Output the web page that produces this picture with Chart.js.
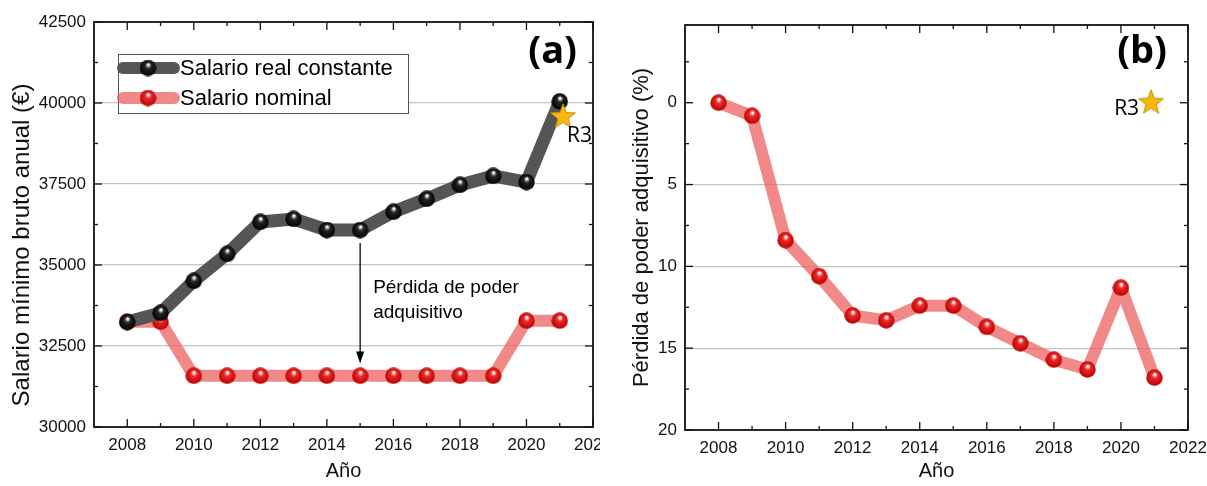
<!DOCTYPE html>
<html>
<head>
<meta charset="utf-8">
<script src="https://cdn.jsdelivr.net/npm/chart.js@4.4.0/dist/chart.umd.min.js"></script>
<style>
  html, body { margin: 0; padding: 0; background: #fff; }
  body { width: 1207px; height: 486px; position: relative; overflow: hidden; }
  .panel { position: absolute; top: 0; height: 486px; }
  #panelA { left: 0; width: 620px; z-index: 1; }
  #panelB { left: 600px; width: 607px; z-index: 2; background: #fff; }
</style>
</head>
<body>
<div class="panel" id="panelA"><canvas id="chartA"></canvas></div>
<div class="panel" id="panelB"><canvas id="chartB"></canvas></div>
<script>
// values
const years = [2008, 2009, 2010, 2011, 2012, 2013, 2014, 2015, 2016, 2017, 2018, 2019, 2020, 2021];
const realSalary = [33240, 33520, 34510, 35340, 36330, 36420, 36080, 36080, 36640, 37040, 37470, 37750, 37560, 40050];
const nominalSalary = [33250, 33250, 31580, 31580, 31580, 31580, 31580, 31580, 31580, 31580, 31580, 31580, 33280, 33280];
const lossPct = [0, 0.8, 8.4, 10.6, 13.0, 13.3, 12.4, 12.4, 13.7, 14.7, 15.7, 16.3, 11.3, 16.8];

const yearTicks = [2008, 2010, 2012, 2014, 2016, 2018, 2020, 2022];
const salaryTicks = [30000, 32500, 35000, 37500, 40000, 42500];
const lossTicks = [0, 5, 10, 15, 20];

const r3Salary = { x: 2021.1, y: 39570 };
const r3Loss = { x: 2020.9, y: 0 };
const lossArrow = { x: 2015, from: 35680, to: 31960 };

const colors = {
  realLine: '#555555',
  nominalLine: 'rgba(236, 92, 92, 0.72)',
  grid: '#c4c4c4',
  star: '#f7b90f',
  starEdge: '#c98f00',
};

const sansFont = '"Liberation Sans", Arial, sans-serif';
const labelFont = '"Open Sans", sans-serif';

function sphere(r, mid, dark) {
  const c = document.createElement('canvas');
  c.width = c.height = Math.ceil(2 * r);
  const m = c.width / 2;
  const g = c.getContext('2d');
  const grd = g.createRadialGradient(m * 1.05, m * 0.6, r * 0.08, m, m, r);
  grd.addColorStop(0, '#ffffff');
  grd.addColorStop(0.3, mid);
  grd.addColorStop(1, dark);
  g.fillStyle = grd;
  g.beginPath();
  g.arc(m, m, r - 0.3, 0, Math.PI * 2);
  g.fill();
  return c;
}

function starImage(outer) {
  const c = document.createElement('canvas');
  c.width = c.height = 2 * outer + 2;
  const g = c.getContext('2d');
  const cx = outer + 1, cy = outer + 1, inner = outer * 0.42;
  g.beginPath();
  for (let i = 0; i < 10; i++) {
    const rad = i % 2 === 0 ? outer : inner;
    const a = -Math.PI / 2 + i * Math.PI / 5;
    g.lineTo(cx + rad * Math.cos(a), cy + rad * Math.sin(a));
  }
  g.closePath();
  g.fillStyle = colors.star;
  g.fill();
  g.strokeStyle = colors.starEdge;
  g.lineWidth = 1;
  g.stroke();
  return c;
}

const blackBall = sphere(8.5, '#262626', '#000000');
const redBall = sphere(8.5, '#ee2a2a', '#b80000');
const star = starImage(13);

const toPoints = (ys) => years.map((yr, i) => ({ x: yr, y: ys[i] }));

// frame + inward ticks on all four sides, like the original plot
const frameTicks = {
  id: 'frameTicks',
  afterDraw(chart, args, opts) {
    const { ctx, chartArea: a, scales: { x, y } } = chart;
    const seg = (x1, y1, x2, y2) => { ctx.beginPath(); ctx.moveTo(x1, y1); ctx.lineTo(x2, y2); ctx.stroke(); };
    ctx.save();
    ctx.strokeStyle = '#111';
    ctx.lineWidth = 1.3;
    yearTicks.forEach(v => {
      const px = x.getPixelForValue(v);
      seg(px, a.bottom, px, a.bottom - 8);
      seg(px, a.top, px, a.top + 8);
    });
    yearTicks.forEach(v => {
      const px = x.getPixelForValue(v + 1);
      if (px < a.right - 1) {
        seg(px, a.bottom, px, a.bottom - 4);
        seg(px, a.top, px, a.top + 4);
      }
    });
    opts.yMajor.forEach(v => {
      const py = y.getPixelForValue(v);
      seg(a.left, py, a.left + 8, py);
      seg(a.right, py, a.right - 8, py);
    });
    opts.yMinor.forEach(v => {
      const py = y.getPixelForValue(v);
      seg(a.left, py, a.left + 4, py);
      seg(a.right, py, a.right - 4, py);
    });
    ctx.lineWidth = 1.8;
    ctx.strokeRect(a.left, a.top, a.right - a.left, a.bottom - a.top);
    ctx.restore();
  }
};

// panel letter, R3 label, arrow, legend, left axis title
const extras = {
  id: 'extras',
  afterDraw(chart, args, opts) {
    const { ctx, chartArea: a, scales: { x, y } } = chart;
    ctx.save();
    ctx.fillStyle = '#000';
    ctx.font = 'bold 38px ' + labelFont;
    ctx.textAlign = 'right';
    ctx.textBaseline = 'middle';
    ctx.fillText(opts.letter, a.right - opts.letterInset, 52);

    ctx.font = '21px ' + labelFont;
    const sx = x.getPixelForValue(opts.r3.x), sy = y.getPixelForValue(opts.r3.y);
    if (opts.r3Side === 'below') {
      ctx.textAlign = 'left';
      ctx.fillText('R3', sx + 4, sy + 19);
    } else {
      ctx.textAlign = 'right';
      ctx.fillText('R3', sx - 12, sy + 6);
    }

    if (opts.yTitle) {
      ctx.save();
      ctx.translate(22, 245);
      ctx.rotate(-Math.PI / 2);
      ctx.textAlign = 'center';
      ctx.fillStyle = '#111';
      ctx.font = '24px ' + sansFont;
      ctx.fillText(opts.yTitle, 0, 0);
      ctx.restore();
    }

    if (opts.arrow) {
      const ax = x.getPixelForValue(opts.arrow.x);
      const y1 = y.getPixelForValue(opts.arrow.from);
      const y2 = y.getPixelForValue(opts.arrow.to);
      ctx.strokeStyle = '#000';
      ctx.lineWidth = 1.3;
      ctx.beginPath(); ctx.moveTo(ax, y1); ctx.lineTo(ax, y2 - 8); ctx.stroke();
      ctx.beginPath(); ctx.moveTo(ax, y2); ctx.lineTo(ax - 4, y2 - 12); ctx.lineTo(ax + 4, y2 - 12); ctx.closePath(); ctx.fill();
      ctx.font = '19px ' + sansFont;
      ctx.textAlign = 'left';
      ctx.fillText('Pérdida de poder', ax + 13, 288);
      ctx.fillText('adquisitivo', ax + 13, 313);
    }

    if (opts.legend) {
      const lx = 118, ly = 54, lw = 290, lh = 59;
      ctx.fillStyle = '#fff';
      ctx.fillRect(lx, ly, lw, lh);
      ctx.strokeStyle = '#555';
      ctx.lineWidth = 1;
      ctx.strokeRect(lx + 0.5, ly + 0.5, lw, lh);
      const rows = [
        { y: 68, color: colors.realLine, w: 12, ball: blackBall, text: 'Salario real constante' },
        { y: 98, color: colors.nominalLine, w: 12, ball: redBall, text: 'Salario nominal' },
      ];
      ctx.font = '22px ' + sansFont;
      ctx.textAlign = 'left';
      rows.forEach(r => {
        ctx.strokeStyle = r.color;
        ctx.lineWidth = r.w;
        ctx.lineCap = 'round';
        ctx.beginPath(); ctx.moveTo(lx + 5, r.y); ctx.lineTo(lx + 56, r.y); ctx.stroke();
        ctx.drawImage(r.ball, lx + 30 - r.ball.width / 2, r.y - r.ball.height / 2);
        ctx.fillStyle = '#000';
        ctx.fillText(r.text, lx + 62, r.y + 1);
      });
    }
    ctx.restore();
  }
};

const plainNumber = v => String(v);

function xScale(height) {
  return {
    type: 'linear',
    min: 2007,
    max: 2022,
    afterBuildTicks: s => { s.ticks = yearTicks.map(v => ({ value: v })); },
    afterFit: s => { s.height = height; s.paddingLeft = 0; s.paddingRight = 0; },
    grid: { display: false, drawTicks: false },
    border: { display: false },
    ticks: { color: '#111', padding: 8, font: { size: 17, family: sansFont }, maxRotation: 0, callback: plainNumber },
    title: { display: true, text: 'Año', color: '#111', font: { size: 20, family: sansFont }, padding: { top: 0, bottom: 3 } },
  };
}

function yGrid(ticks) {
  return {
    drawTicks: false,
    color: c => (c.tick && (c.tick.value === ticks[0] || c.tick.value === ticks[ticks.length - 1])) ? 'rgba(0,0,0,0)' : colors.grid,
    lineWidth: 1.2,
  };
}

const lineStyle = { borderJoinStyle: 'round', borderCapStyle: 'round' };

new Chart(document.getElementById('chartA'), {
  type: 'line',
  data: {
    datasets: [
      Object.assign({
        label: 'Salario real constante',
        data: toPoints(realSalary),
        borderColor: colors.realLine,
        borderWidth: 13,
        pointStyle: blackBall,
        order: 1,
      }, lineStyle),
      Object.assign({
        label: 'Salario nominal',
        data: toPoints(nominalSalary),
        borderColor: colors.nominalLine,
        borderWidth: 12,
        pointStyle: redBall,
        order: 2,
      }, lineStyle),
      {
        label: 'R3',
        data: [r3Salary],
        showLine: false,
        pointStyle: star,
        order: 0,
      },
    ]
  },
  options: {
    responsive: true,
    maintainAspectRatio: false,
    animation: false,
    layout: { padding: { left: 0, top: 22, right: 27, bottom: 0 } },
    plugins: {
      legend: { display: false },
      tooltip: { enabled: false },
      frameTicks: {
        yMajor: salaryTicks,
        yMinor: [31250, 33750, 36250, 38750, 41250],
      },
      extras: {
        letter: '(a)', letterInset: 16, r3: r3Salary, r3Side: 'below', arrow: lossArrow, legend: true,
        yTitle: 'Salario mínimo bruto anual (€)',
      },
    },
    scales: {
      x: xScale(59),
      y: {
        type: 'linear',
        min: 30000,
        max: 42500,
        afterBuildTicks: s => { s.ticks = salaryTicks.map(v => ({ value: v })); },
        afterFit: s => { s.width = 94; s.paddingTop = 0; s.paddingBottom = 0; },
        grid: yGrid(salaryTicks),
        border: { display: false },
        ticks: { color: '#111', padding: 8, font: { size: 17, family: sansFont }, callback: plainNumber },
        title: { display: false },
      }
    }
  },
  plugins: [frameTicks, extras]
});

new Chart(document.getElementById('chartB'), {
  type: 'line',
  data: {
    datasets: [
      Object.assign({
        label: 'Pérdida de poder adquisitivo',
        data: toPoints(lossPct),
        borderColor: colors.nominalLine,
        borderWidth: 12,
        pointStyle: redBall,
        order: 1,
      }, lineStyle),
      {
        label: 'R3',
        data: [r3Loss],
        showLine: false,
        pointStyle: star,
        order: 0,
      },
    ]
  },
  options: {
    responsive: true,
    maintainAspectRatio: false,
    animation: false,
    layout: { padding: { left: 0, top: 25, right: 19, bottom: 0 } },
    plugins: {
      legend: { display: false },
      tooltip: { enabled: false },
      frameTicks: {
        yMajor: lossTicks,
        yMinor: [-2.5, 2.5, 7.5, 12.5, 17.5],
      },
      extras: { letter: '(b)', letterInset: 21, r3: r3Loss, r3Side: 'left' },
    },
    scales: {
      x: xScale(56),
      y: {
        type: 'linear',
        reverse: true,
        min: -4.75,
        max: 20,
        afterBuildTicks: s => { s.ticks = lossTicks.map(v => ({ value: v })); },
        afterFit: s => { s.width = 85; s.paddingTop = 0; s.paddingBottom = 0; },
        grid: yGrid(lossTicks),
        border: { display: false },
        ticks: { color: '#111', padding: 8, font: { size: 17, family: sansFont }, callback: plainNumber },
        title: { display: true, text: 'Pérdida de poder adquisitivo (%)', color: '#111', font: { size: 22, family: sansFont }, padding: { top: 29, bottom: 0 } },
      }
    }
  },
  plugins: [frameTicks, extras]
});
</script>
</body>
</html>
